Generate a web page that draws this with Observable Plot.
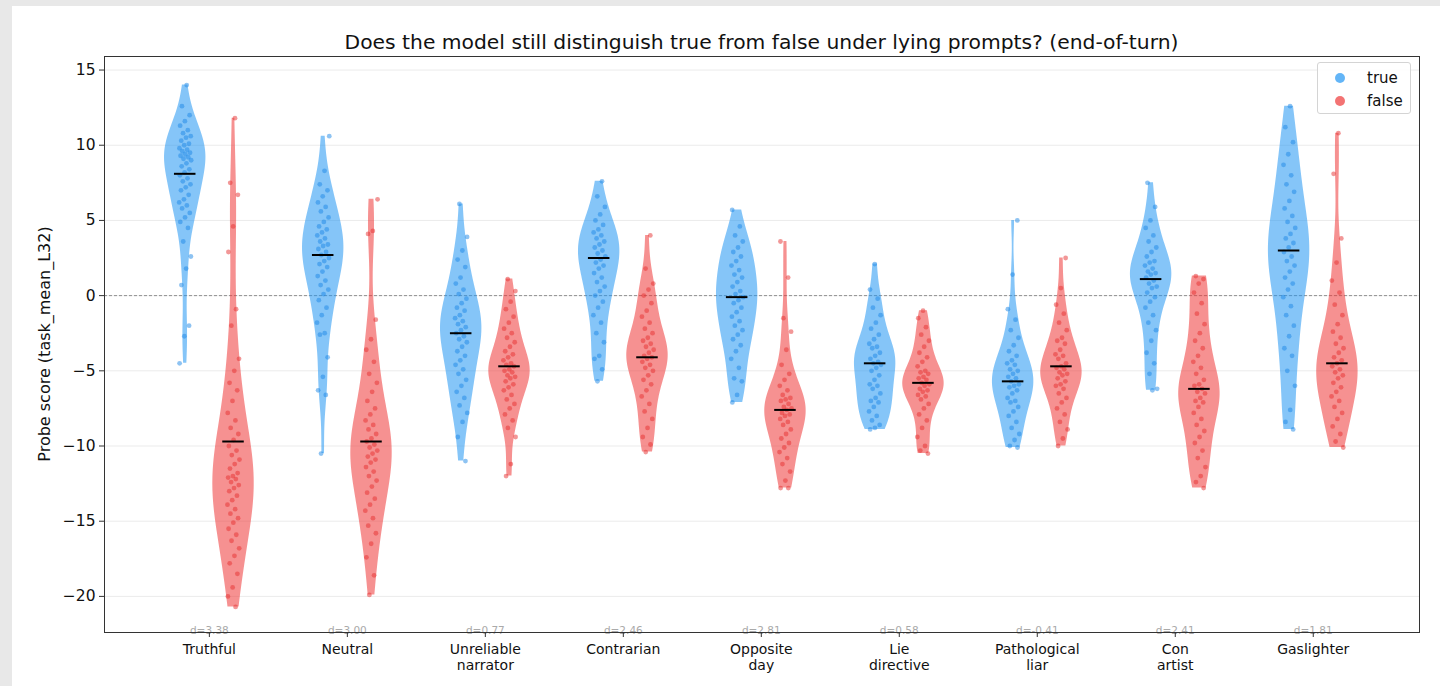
<!DOCTYPE html>
<html>
<head>
<meta charset="utf-8">
<script src="https://cdn.jsdelivr.net/npm/d3@7"></script>
<script src="https://cdn.jsdelivr.net/npm/@observablehq/plot@0.6"></script>
<style>
  html, body { margin: 0; padding: 0; }
  body { width: 1440px; height: 686px; background: #e8e8e8; position: relative; overflow: hidden; font-family: "DejaVu Sans", sans-serif; }
  #panel { position: absolute; left: 12px; top: 6px; width: 1428px; height: 680px; background: #fff; }
  #title { position: absolute; left: 104px; width: 1315px; top: 30px; text-align: center; font-size: 20.3px; line-height: 24px; color: #111; }
  #ylabel { position: absolute; left: 44px; top: 344px; width: 0; height: 0; }
  #ylabel span { position: absolute; white-space: nowrap; font-size: 16px; transform: translate(-50%, -50%) rotate(-90deg); color: #111; }
  #chart { position: absolute; left: 12px; top: 30px; }
  #legend { position: absolute; left: 1317px; top: 62px; width: 92px; height: 50px; border: 1px solid #d4d4d4; border-radius: 3px; background: rgba(255,255,255,0.85); font-size: 15px; color: #111; }
  .lg { position: absolute; left: 0; height: 20px; line-height: 20px; }
  .lg i { position: absolute; left: 17px; top: 5px; width: 10px; height: 10px; border-radius: 50%; opacity: 0.7; }
  .lg span { position: absolute; left: 49px; }
</style>
</head>
<body>
<div id="panel"></div>
<div id="title">Does the model still distinguish true from false under lying prompts? (end-of-turn)</div>
<div id="ylabel"><span>Probe score (task_mean_L32)</span></div>
<div id="chart"></div>
<div id="legend">
  <div class="lg" style="top:5px"><i style="background:#2196F3"></i><span>true</span></div>
  <div class="lg" style="top:28px"><i style="background:#EE3737"></i><span>false</span></div>
</div>
<script>
// ---------------- data ----------------
const categories = ["Truthful", "Neutral", "Unreliable\nnarrator", "Contrarian", "Opposite\nday", "Lie\ndirective", "Pathological\nliar", "Con\nartist", "Gaslighter"];
const effectD = ["3.38", "3.00", "0.77", "2.46", "2.81", "0.58", "-0.41", "2.41", "1.81"];
const trueMedians = [8.1, 2.7, -2.5, 2.5, -0.1, -4.5, -5.7, 1.1, 3.0];
const falseMedians = [-9.7, -9.7, -4.7, -4.1, -7.6, -5.8, -4.7, -6.2, -4.5];
const yTicks = [-20, -15, -10, -5, 0, 5, 10, 15];

const trueScores = [
  [14.0, 12.6, 12.0, 11.6, 11.3, 11.0, 10.8, 10.6, 10.5, 10.3, 10.1, 10.0, 9.8, 9.7, 9.6, 9.5, 9.4, 9.3, 9.2, 9.1, 9.0, 8.8, 8.6, 8.4, 8.2, 8.0, 7.8, 7.6, 7.4, 7.2, 7.0, 6.7, 6.4, 6.2, 6.0, 5.8, 5.5, 5.2, 4.9, 4.5, 3.6, 2.6, 1.8, 0.7, -2.0, -2.7, -4.5],
  [10.6, 8.3, 7.4, 7.0, 6.6, 6.2, 5.9, 5.6, 5.2, 4.9, 4.6, 4.4, 4.2, 4.0, 3.8, 3.6, 3.4, 3.3, 3.1, 2.9, 2.7, 2.5, 2.3, 2.1, 1.9, 1.6, 1.3, 1.0, 0.7, 0.4, 0.1, -0.3, -0.8, -1.3, -1.8, -2.5, -2.6, -4.1, -5.4, -6.3, -6.6, -10.5],
  [6.1, 3.9, 3.0, 2.4, 1.9, 1.2, 0.8, 0.4, 0.1, -0.2, -0.5, -0.8, -1.0, -1.3, -1.5, -1.7, -1.9, -2.1, -2.3, -2.5, -2.7, -2.9, -3.1, -3.4, -3.7, -4.0, -4.3, -4.6, -4.9, -5.2, -5.6, -6.0, -6.4, -6.8, -7.3, -7.8, -8.4, -9.4, -11.0],
  [7.6, 6.6, 5.9, 5.4, 5.0, 4.7, 4.4, 4.2, 4.0, 3.8, 3.6, 3.4, 3.2, 3.0, 2.8, 2.6, 2.4, 2.2, 2.0, 1.8, 1.5, 1.2, 0.9, 0.6, 0.3, 0.0, -0.4, -0.8, -1.3, -1.8, -2.5, -3.1, -4.0, -4.2, -4.9, -5.7],
  [5.7, 4.6, 4.0, 3.6, 3.2, 2.9, 2.6, 2.3, 2.0, 1.7, 1.4, 1.2, 0.9, 0.6, 0.3, 0.1, -0.1, -0.3, -0.5, -0.8, -1.1, -1.4, -1.7, -2.0, -2.3, -2.6, -2.9, -3.3, -3.7, -4.2, -4.8, -5.5, -5.7, -6.6, -7.1],
  [2.1, 0.4, -0.2, -0.8, -1.3, -1.8, -2.2, -2.6, -2.9, -3.2, -3.4, -3.5, -3.8, -4.0, -4.2, -4.4, -4.5, -4.6, -4.8, -5.0, -5.3, -5.6, -5.9, -6.0, -6.2, -6.5, -6.8, -7.0, -7.1, -7.4, -7.7, -8.0, -8.3, -8.6, -8.8, -8.9],
  [5.0, 1.4, -0.9, -1.6, -2.3, -2.8, -3.3, -3.7, -4.0, -4.3, -4.5, -4.6, -4.9, -5.0, -5.2, -5.4, -5.5, -5.7, -5.9, -6.0, -6.1, -6.3, -6.5, -6.8, -7.0, -7.1, -7.4, -7.7, -8.0, -8.4, -8.8, -9.2, -9.6, -10.0, -10.1],
  [7.5, 5.9, 5.0, 4.5, 4.0, 3.6, 3.2, 2.9, 2.6, 2.3, 2.2, 2.0, 1.8, 1.6, 1.5, 1.4, 1.2, 1.0, 0.8, 0.6, 0.5, 0.2, -0.1, -0.4, -0.8, -1.3, -1.8, -2.3, -3.0, -3.8, -4.5, -5.2, -6.2, -6.3],
  [12.6, 11.2, 10.2, 9.4, 8.7, 8.0, 7.4, 6.9, 6.3, 5.8, 5.3, 4.9, 4.5, 4.1, 3.8, 3.5, 3.2, 2.9, 2.6, 2.3, 2.0, 1.6, 1.2, 0.8, 0.4, -0.1, -0.7, -1.3, -2.0, -2.7, -3.5, -4.0, -5.0, -6.0, -7.6, -8.4, -8.9]
];

const falseScores = [
  [11.8, 7.5, 6.7, 4.6, 2.9, -0.9, -2.0, -4.2, -5.0, -5.8, -6.3, -7.0, -7.8, -8.3, -8.8, -9.2, -9.6, -10.0, -10.3, -10.6, -10.9, -11.2, -11.5, -11.8, -12.0, -12.1, -12.2, -12.4, -12.6, -12.8, -13.0, -13.3, -13.6, -13.9, -14.2, -14.5, -14.8, -15.1, -15.5, -15.9, -16.3, -16.8, -17.3, -17.8, -18.5, -19.4, -20.0, -20.7],
  [6.4, 4.3, 4.1, -1.6, -2.9, -3.6, -4.4, -5.2, -5.8, -6.4, -7.0, -7.5, -7.9, -8.3, -8.6, -8.9, -9.2, -9.5, -9.7, -9.9, -10.1, -10.3, -10.5, -10.7, -10.9, -11.1, -11.4, -11.7, -12.0, -12.3, -12.7, -13.1, -13.5, -13.9, -14.3, -14.8, -15.3, -15.8, -16.5, -17.4, -18.6, -19.9],
  [1.1, 0.3, -0.4, -0.9, -1.4, -1.8, -2.2, -2.5, -2.8, -3.1, -3.4, -3.7, -3.9, -4.1, -4.3, -4.5, -4.6, -4.7, -4.9, -5.0, -5.1, -5.3, -5.4, -5.5, -5.7, -5.9, -6.1, -6.3, -6.6, -6.9, -7.2, -7.5, -7.9, -8.3, -8.8, -9.4, -11.2, -12.0],
  [4.0, 1.8, 0.8, 0.4, 0.0, -0.5, -1.0, -1.4, -1.8, -2.2, -2.5, -2.8, -3.0, -3.2, -3.4, -3.6, -3.8, -4.0, -4.1, -4.2, -4.4, -4.6, -4.8, -5.0, -5.3, -5.6, -5.9, -6.3, -6.7, -7.2, -7.7, -8.2, -8.8, -9.4, -9.9, -10.4],
  [3.6, 1.2, -1.5, -2.4, -3.6, -4.6, -5.2, -5.6, -6.0, -6.3, -6.6, -6.8, -6.9, -7.0, -7.2, -7.4, -7.5, -7.6, -7.8, -7.9, -8.0, -8.2, -8.4, -8.6, -8.9, -9.2, -9.5, -9.8, -10.1, -10.4, -10.8, -11.2, -11.7, -12.3, -12.8, -12.8],
  [-1.0, -1.5, -2.1, -2.6, -3.0, -3.4, -3.8, -4.1, -4.4, -4.7, -5.0, -5.1, -5.2, -5.4, -5.5, -5.6, -5.8, -5.9, -6.0, -6.2, -6.3, -6.4, -6.6, -6.7, -6.9, -7.2, -7.5, -7.9, -8.3, -8.8, -9.4, -10.0, -10.3, -10.5],
  [2.5, 0.5, -0.6, -1.2, -1.8, -2.3, -2.8, -3.0, -3.2, -3.6, -3.9, -4.0, -4.2, -4.5, -4.7, -4.8, -4.9, -5.1, -5.2, -5.3, -5.5, -5.7, -5.9, -6.0, -6.2, -6.5, -6.8, -7.1, -7.5, -7.9, -8.4, -8.9, -9.5, -10.0],
  [1.3, 1.1, 0.8, 0.2, -0.5, -1.2, -1.9, -2.5, -3.0, -3.5, -4.0, -4.4, -4.8, -5.2, -5.6, -5.9, -6.0, -6.2, -6.4, -6.5, -6.8, -7.0, -7.1, -7.4, -7.8, -8.2, -8.6, -9.0, -9.4, -9.8, -10.3, -10.8, -11.4, -12.0, -12.4, -12.8],
  [10.8, 8.1, 3.8, 2.2, 1.0, 0.2, -0.6, -1.3, -1.9, -2.4, -2.8, -3.2, -3.5, -3.8, -4.1, -4.3, -4.5, -4.7, -4.9, -5.1, -5.3, -5.5, -5.8, -6.1, -6.4, -6.7, -7.0, -7.4, -7.8, -8.2, -8.7, -9.2, -9.7, -10.1]
];

// ---------------- layout constants ----------------
const BLUE = "#2196F3", RED = "#EE3737";
const OFFSET = 0.175, HALF = 0.15, JIT = 0.045, MED = 0.078;
const catIdx = categories.map((_, i) => i);

function violin(values, cx, key) {
  const n = values.length;
  const bw = d3.deviation(values) * 0.37;
  const lo = d3.min(values), hi = d3.max(values);
  const steps = 140;
  const rows = [];
  for (let k = 0; k <= steps; k++) {
    const y = lo + (hi - lo) * k / steps;
    let dens = 0;
    for (const v of values) { const u = (y - v) / bw; dens += Math.exp(-0.5 * u * u); }
    rows.push({key, cx, y, dens: dens / n});
  }
  const m = d3.max(rows, r => r.dens);
  rows.forEach(r => r.w = HALF * r.dens / m);
  return rows;
}

function buildRows(scores, sign, label) {
  const vio = [], pts = [];
  scores.forEach((vals, i) => {
    const cx = i + sign * OFFSET;
    vio.push(...violin(vals, cx, label + i));
    vals.forEach((v, j) => {
      const f = ((j + 1) * 0.6180339 + i * 0.37) % 1;
      pts.push({x: cx + (f - 0.5) * 2 * JIT, y: v});
    });
  });
  return {vio, pts};
}
const T = buildRows(trueScores, -1, "t");
const F = buildRows(falseScores, 1, "f");
const medRows = [
  ...trueMedians.map((m, i) => ({cx: i - OFFSET, m})),
  ...falseMedians.map((m, i) => ({cx: i + OFFSET, m}))
];
const fmtY = d => d < 0 ? "\u2212" + Math.abs(d) : String(d);

const plot = Plot.plot({
  width: 1428,
  height: 656,
  marginLeft: 92,
  marginRight: 21,
  marginTop: 26,
  marginBottom: 54,
  style: {fontFamily: "DejaVu Sans, sans-serif", fontSize: "14px", color: "#111", background: "transparent", overflow: "visible"},
  x: {domain: [-0.76, 8.77]},
  y: {domain: [-22.4, 15.9]},
  marks: [
    Plot.ruleY(yTicks, {stroke: "#ebebeb", strokeWidth: 1}),
    Plot.ruleY([0], {stroke: "#777", strokeWidth: 0.8, strokeDasharray: "3,2"}),
    Plot.areaX(T.vio, {y: "y", x1: d => d.cx - d.w, x2: d => d.cx + d.w, z: "key", fill: BLUE, fillOpacity: 0.55, curve: "linear"}),
    Plot.areaX(F.vio, {y: "y", x1: d => d.cx - d.w, x2: d => d.cx + d.w, z: "key", fill: RED, fillOpacity: 0.55, curve: "linear"}),
    Plot.dot(T.pts, {x: "x", y: "y", r: 2.4, fill: "#1E88E5", fillOpacity: 0.5, stroke: "none"}),
    Plot.dot(F.pts, {x: "x", y: "y", r: 2.4, fill: "#E53030", fillOpacity: 0.5, stroke: "none"}),
    Plot.ruleY(medRows, {y: "m", x1: d => d.cx - MED, x2: d => d.cx + MED, stroke: "#000", strokeWidth: 2}),
    Plot.text(catIdx, {x: d => d, text: d => "d=" + effectD[d], frameAnchor: "bottom", lineAnchor: "bottom", dy: 1, fill: "#aaa", fontSize: 10.5}),
    Plot.frame({stroke: "#333", strokeWidth: 1}),
    Plot.axisY(yTicks, {tickFormat: fmtY, tickSize: 5, tickPadding: 4, label: null, stroke: "#333", fontSize: 15.5}),
    Plot.axisX(catIdx, {tickFormat: i => categories[i], tickSize: 5, tickPadding: 5, label: null, stroke: "#333", fontSize: 14, lineHeight: 1.15})
  ]
});
document.getElementById("chart").appendChild(plot);
</script>
</body>
</html>
